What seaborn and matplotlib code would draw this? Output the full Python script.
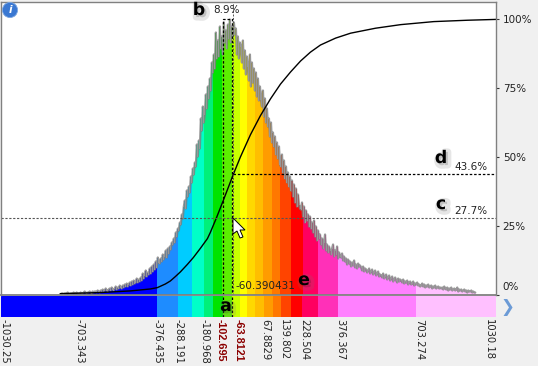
import matplotlib
matplotlib.use("Agg")
import matplotlib.pyplot as plt
import matplotlib.patheffects as pe
from matplotlib.patches import Polygon
from matplotlib.transforms import ScaledTranslation
import numpy as np
import seaborn as sns

# histogram counts, one value per bin, left to right
hist_start = -782.0
hist_width = 4.182
hist_counts = [
    0, 1, 1, 0, 1, 1, 1, 2, 1, 0, 1, 1, 1, 2, 1, 1, 2, 1, 1, 1,
    2, 1, 1, 2, 3, 2, 1, 2, 2, 3, 2, 1, 3, 2, 3, 3, 2, 4, 3, 2,
    4, 3, 5, 3, 4, 6, 4, 3, 5, 6, 4, 7, 5, 4, 6, 8, 5, 7, 6, 9,
    7, 6, 9, 7, 10, 8, 11, 8, 10, 12, 9, 13, 10, 14, 11, 12, 16, 12, 15, 13,
    17, 14, 21, 16, 19, 24, 18, 22, 20, 26, 21, 28, 23, 30, 25, 33, 27, 37, 32, 31,
    36, 33, 40, 35, 38, 44, 37, 46, 41, 48, 45, 52, 50, 56, 52, 62, 58, 66, 64, 72,
    70, 80, 76, 88, 94, 86, 104, 98, 108, 102, 118, 112, 126, 120, 132, 128, 150, 138, 154, 146,
    176, 164, 188, 172, 180, 200, 186, 208, 196, 216, 204, 232, 222, 240, 226, 262, 236, 254, 238, 268,
    246, 258, 240, 272, 252, 264, 246, 270, 256, 275, 252, 268, 258, 272, 260, 266, 240, 258, 236, 252,
    248, 232, 254, 226, 244, 220, 238, 228, 214, 240, 208, 232, 212, 226, 204, 222, 198, 216, 194, 208,
    195, 188, 204, 178, 196, 172, 186, 168, 176, 158, 172, 152, 162, 148, 158, 140, 152, 136, 148, 130,
    128, 140, 122, 134, 116, 128, 112, 122, 108, 118, 104, 114, 98, 110, 92, 106, 88, 100, 90, 86,
    85, 92, 78, 88, 72, 84, 74, 80, 68, 78, 66, 72, 62, 74, 58, 68, 54, 64, 56, 60,
    50, 56, 46, 52, 60, 44, 50, 42, 48, 44, 40, 46, 50, 38, 44, 40, 48, 36, 42, 38,
    37, 41, 34, 38, 33, 36, 30, 35, 31, 33, 28, 32, 29, 34, 27, 30, 26, 31, 28, 29,
    27, 24, 28, 23, 26, 25, 22, 24, 26, 21, 23, 25, 20, 22, 24, 19, 21, 23, 18, 20,
    19, 17, 21, 16, 18, 20, 15, 17, 19, 14, 16, 18, 13, 15, 17, 14, 12, 16, 13, 15,
    14, 12, 15, 11, 13, 12, 14, 10, 12, 13, 10, 11, 13, 9, 11, 10, 12, 9, 10, 8,
    9, 11, 8, 10, 7, 9, 8, 10, 7, 8, 9, 6, 8, 7, 9, 6, 7, 8, 6, 7,
    6, 7, 5, 8, 6, 5, 7, 4, 6, 5, 7, 4, 5, 6, 4, 5, 7, 3, 5, 4,
    5, 3, 4, 5, 3, 4, 2, 4, 3, 3, 4, 2, 3, 2, 2,
]

# colour bands of the strip
band_edges = [-1031, -376.435, -288.191, -230, -180.968, -142, -102.695, -63.812, -29, 0,
              33, 67.8829, 105, 139.802, 184, 228.504, 293, 376.367, 703.274, 1040]
band_colors = ["#0000FF", "#1E8CFF", "#00CCFF", "#00FFC8", "#00F07A", "#00E400", "#5CEE00",
               "#C8FF00", "#FFFF00", "#FFD800", "#FFBE00", "#FF9C00", "#FF7800", "#FF4400",
               "#FF0000", "#FF0060", "#FF30B8", "#FF80FF", "#FFC0FF"]

# cumulative curve
cdf_x = [-782, -615, -489, -406, -376, -343, -322, -301, -280, -251, -226, -197, -167, -155, -130,
         -105, -59, -29, 12.5, 54, 96, 138, 180, 222, 263, 305, 368, 431, 535, 640, 778, 920, 1040]
cdf_y = [0.3, 0.7, 1.3, 2.0, 2.5, 3.8, 4.9, 6.5, 8.2, 10.9, 13.4, 16.7, 20.3, 22.5, 27.7,
         33.2, 43.6, 50, 58, 64.9, 71, 76.4, 80.8, 84.8, 88, 90.6, 93.1, 94.9, 96.7, 98, 99.1, 99.6, 99.9]

# strip labels
tick_values = [-1030.25, -703.343, -376.435, -288.191, -180.968, -102.695, -63.812,
               67.8829, 139.802, 228.504, 376.367, 703.274, 1030.18]
tick_labels = ["-1030.25", "-703.343", "-376.435", "-288.191", "-180.968", "-102.695", "-63.8121",
               "67.8829", "139.802", "228.504", "376.367", "703.274", "1030.18"]
tick_nudge = [4, 1, 0, 0, 0.5, -2, 6, 2, 2.5, 2.5, 2.5, 3, -5]

pct_ticks = [0, 25, 50, 75, 100]
pct_labels = ["0%", "25%", "50%", "75%", "100%"]

left_cut = -63.812
right_cut = -102.695
cursor_x = -60.390431
level_c = 27.7
level_d = 43.6

W, H = 538, 366
sns.set_theme(style="white", rc={"figure.facecolor": "#F0F0F0", "axes.facecolor": "white"})
plt.rcParams["font.family"] = ["DejaVu Sans"]


def rect(x0, y0, x1, y1):
    return [x0 / W, 1 - y1 / H, (x1 - x0) / W, (y1 - y0) / H]


def pos(x, y):
    return x / W, 1 - y / H


fig = plt.figure(figsize=(W / 100, H / 100), dpi=100)
ax_hist = fig.add_axes(rect(0.5, 1.5, 496.5, 294.5))
ax_strip = fig.add_axes(rect(0.5, 295, 496.5, 317))

counts = np.array(hist_counts, dtype=float)
edges = hist_start + hist_width * np.arange(len(counts) + 1)
centers = (edges[:-1] + edges[1:]) / 2

for lo, hi, color in zip(band_edges[:-1], band_edges[1:], band_colors):
    mask = (centers >= lo) & (centers < hi)
    if mask.any():
        idx = np.where(mask)[0]
        sns.histplot(x=centers[mask], weights=counts[mask], bins=edges[idx[0]:idx[-1] + 2].tolist(),
                     color=color, alpha=1, linewidth=0, antialiased=False, ax=ax_hist)
    sns.histplot(x=[(lo + hi) / 2], weights=[1], bins=[lo, hi], color=color, alpha=1,
                 linewidth=0, ax=ax_strip)

sns.lineplot(x=centers, y=counts, color="#7E7E7E", alpha=0.8, linewidth=1.6, ax=ax_hist, legend=False)
ax_hist.set_xlim(band_edges[0], band_edges[-1])
ax_hist.set_ylim(0, 293)
ax_hist.set_xticks([])
ax_hist.set_yticks([])
ax_hist.set_xlabel("")
ax_hist.set_ylabel("")

ax_pct = ax_hist.twinx()
ax_pct.set_ylim(0.2, 106.4)
sns.lineplot(x=cdf_x, y=cdf_y, color="black", linewidth=1, ax=ax_pct, legend=False)
ax_pct.set_xlim(band_edges[0], band_edges[-1])
ax_pct.set_ylabel("")
ax_pct.set_yticks(pct_ticks, pct_labels, fontsize=7.5, color="#222222")
ax_pct.tick_params(axis="y", length=2.5, width=0.8, pad=2, color="#333333", right=True)
zero_label = ax_pct.get_yticklabels()[0]
zero_label.set_transform(zero_label.get_transform() + ScaledTranslation(0, 0.08, fig.dpi_scale_trans))

# selection box, cursor and the two level lines
dash = (0, (2, 1.5))
ax_pct.plot([right_cut, right_cut, left_cut, left_cut], [0, 100, 100, 0], color="black",
            linewidth=0.9, linestyle=dash)
ax_pct.plot([cursor_x, cursor_x], [0, 106.4], color="#555555", linewidth=0.7, linestyle=dash)
ax_pct.plot(band_edges[0::len(band_edges) - 1], [level_c, level_c], color="#555555",
            linewidth=0.8, linestyle=dash)
ax_pct.plot([cursor_x, band_edges[-1]], [level_d, level_d], color="black", linewidth=0.9,
            linestyle=dash)

for cut in (right_cut, left_cut):
    ax_strip.axvline(cut, color="black", linewidth=0.9, linestyle=dash)

ax_strip.set_xlim(band_edges[0], band_edges[-1])
ax_strip.set_yticks([])
ax_strip.set_ylabel("")
ax_strip.set_xlabel("")
ax_strip.set_xticks(tick_values, tick_labels, rotation=270, fontsize=7.2, color="#222222")
ax_strip.tick_params(axis="x", length=0, pad=1.5)
for label, dx in zip(ax_strip.get_xticklabels(), tick_nudge):
    label.set_transform(label.get_transform() + ScaledTranslation(dx / 100, 0, fig.dpi_scale_trans))
    if label.get_text() in ("-102.695", "-63.8121"):
        label.set_color("#8B0000")
        label.set_fontweight("bold")
        label.set_family("Liberation Sans")
        label.set_fontsize(7.8)

for spine in ax_strip.spines.values():
    spine.set_visible(False)
for spine in ax_hist.spines.values():
    spine.set_visible(False)
for name, spine in ax_pct.spines.items():
    spine.set_color("#808080")
    spine.set_linewidth(1.3 if name == "bottom" else 1)

# callout letters with a soft shadow
shadow = [pe.Stroke(linewidth=5, foreground="#777777", alpha=0.18, offset=(1.5, -1.5)), pe.Normal()]
for letter, x, y in [("a", 226, 306), ("b", 199, 10), ("c", 441, 204), ("d", 441, 158), ("e", 304, 280)]:
    fx, fy = pos(x, y)
    fig.text(fx, fy, letter, fontsize=12.5, fontweight="bold", color="black", ha="center",
             va="center", path_effects=shadow)

for txt, x, y, ha in [("8.9%", 227, 10, "center"), ("43.6%", 471, 167, "center"),
                      ("27.7%", 471, 211, "center"), ("-60.390431", 235, 286, "left")]:
    fx, fy = pos(x, y)
    fig.text(fx, fy, txt, fontsize=7.5, color="#222222", ha=ha, va="center")

# mouse pointer
arrow = [(233, 218), (233, 234), (237, 231), (240, 238), (243, 237), (240, 230), (245, 230)]
fig.add_artist(Polygon([pos(x, y) for x, y in arrow], closed=True, facecolor="white",
                       edgecolor="black", linewidth=0.7, transform=fig.transFigure))

# info badge and scroll chevron
fx, fy = pos(10, 10)
fig.text(fx, fy, "i", fontsize=7.5, fontweight="bold", fontstyle="italic", color="white", ha="center",
         va="center", bbox=dict(boxstyle="circle,pad=0.25", facecolor="#3A78D2", edgecolor="#7FA8E0", linewidth=0.6))
fx, fy = pos(507, 307)
fig.text(fx, fy, "\u276F", fontsize=12, color="#6C9BD6", ha="center", va="center")

fig.savefig("out.png", dpi=100, facecolor=fig.get_facecolor())
